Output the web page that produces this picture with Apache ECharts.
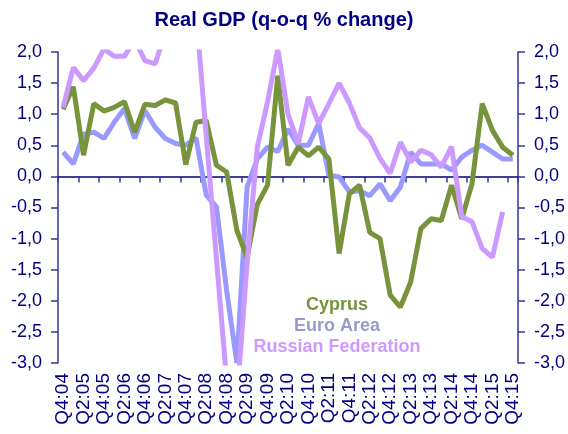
<!DOCTYPE html>
<html>
<head>
<meta charset="utf-8">
<script src="https://cdn.jsdelivr.net/npm/echarts@6/dist/echarts.min.js"></script>
<style>html,body{margin:0;padding:0;background:#fff}#c{width:568px;height:434px}</style>
</head>
<body>
<div id="c"></div>
<script>
// Quarters Q4:04 .. Q4:15
const categories = [];
(function(){
  categories.push('Q4:04');
  for (let y = 5; y <= 15; y++) {
    for (let q = 1; q <= 4; q++) categories.push('Q' + q + ':' + (y < 10 ? '0' + y : '' + y));
  }
})();

const cyprus = [1.08,1.44,0.34,1.17,1.05,1.11,1.20,0.71,1.16,1.14,1.23,1.18,0.19,0.87,0.90,0.18,0.07,-0.87,-1.30,-0.45,-0.14,1.62,0.18,0.47,0.33,0.47,0.28,-1.24,-0.28,-0.14,-0.90,-1.00,-1.91,-2.10,-1.70,-0.84,-0.68,-0.71,-0.14,-0.68,-0.12,1.17,0.74,0.47,0.34];
const euroArea = [0.39,0.20,0.68,0.71,0.61,0.87,1.09,0.61,1.06,0.79,0.61,0.53,0.50,0.62,-0.30,-0.49,-1.84,-3.00,-0.17,0.28,0.47,0.40,0.76,0.50,0.50,0.85,0.02,-0.01,-0.25,-0.23,-0.31,-0.12,-0.39,-0.17,0.39,0.20,0.20,0.20,0.10,0.31,0.42,0.50,0.39,0.28,0.28];
const russia = [1.11,1.75,1.54,1.74,2.05,1.93,1.93,2.20,1.86,1.81,2.30,2.40,2.50,2.65,0.66,-1.32,-3.28,-3.60,-1.40,0.47,1.20,2.05,1.00,0.53,1.28,0.85,1.17,1.50,1.18,0.78,0.62,0.29,0.05,0.55,0.23,0.42,0.35,0.15,0.48,-0.65,-0.73,-1.16,-1.30,-0.57,null];

const seriesNames = ['Cyprus', 'Euro Area', 'Russian Federation'];
const titleText = 'Real GDP (q-o-q % change)';

const FONT = '"Liberation Sans", Arial, sans-serif';
const NAVY = '#000080';
const AXIS = '#333399';
const cGreen = '#77933C', cBlue = '#9999FF', cPurple = '#CC99FF';

function yAxisCfg(pos) {
  return {
    type: 'value', position: pos, min: -3, max: 2, interval: 0.5,
    splitLine: {show: false},
    axisLine: {show: true, onZero: false, lineStyle: {color: AXIS, width: 1.5}},
    axisTick: {show: true, inside: false, length: 7, lineStyle: {color: AXIS, width: 1.5}},
    axisLabel: {
      color: NAVY, fontFamily: FONT, fontSize: 18, margin: 16,
      formatter: v => v.toFixed(1).replace('.', ',')
    }
  };
}

const chart = echarts.init(document.getElementById('c'), null, {renderer: 'canvas'});
chart.setOption({
  animation: false,
  backgroundColor: '#fff',
  title: {
    text: titleText, left: 'center', top: 5,
    textStyle: {color: NAVY, fontFamily: FONT, fontSize: 20, fontWeight: 'bold'}
  },
  grid: {left: 58, right: 48, top: 52, bottom: 71, containLabel: false},
  xAxis: [
    {
      type: 'category', data: categories, position: 'bottom', boundaryGap: true,
      axisLine: {show: false, onZero: false},
      axisTick: {show: false},
      axisLabel: {interval: 1, rotate: 90, color: NAVY, fontFamily: FONT, fontSize: 19, margin: 10}
    },
    {
      type: 'category', data: categories, position: 'bottom', boundaryGap: true,
      axisLine: {show: true, onZero: true, lineStyle: {color: NAVY, width: 1.5}},
      axisTick: {show: true, interval: 1, length: 6, lineStyle: {color: AXIS, width: 1.5}},
      axisLabel: {show: false}
    }
  ],
  yAxis: [yAxisCfg('left'), yAxisCfg('right')],
  series: [
    {name: seriesNames[1], type: 'line', data: euroArea, xAxisIndex: 0, yAxisIndex: 0, showSymbol: false, symbol: 'none',
     lineStyle: {color: cBlue, width: 5}, itemStyle: {color: cBlue}, z: 2},
    {name: seriesNames[0], type: 'line', data: cyprus, xAxisIndex: 0, yAxisIndex: 0, showSymbol: false, symbol: 'none',
     lineStyle: {color: cGreen, width: 5}, itemStyle: {color: cGreen}, z: 3},
    {name: seriesNames[2], type: 'line', data: russia, xAxisIndex: 0, yAxisIndex: 0, showSymbol: false, symbol: 'none',
     lineStyle: {color: cPurple, width: 5}, itemStyle: {color: cPurple}, z: 4}
  ],
  graphic: [
    {type: 'text', x: 337, y: 305, z: 10, style: {text: seriesNames[0], fill: cGreen, font: 'bold 18px ' + FONT, textAlign: 'center', textVerticalAlign: 'middle'}},
    {type: 'text', x: 337, y: 326, z: 10, style: {text: seriesNames[1], fill: '#9999CC', font: 'bold 18px ' + FONT, textAlign: 'center', textVerticalAlign: 'middle'}},
    {type: 'text', x: 337, y: 347, z: 10, style: {text: seriesNames[2], fill: cPurple, font: 'bold 18px ' + FONT, textAlign: 'center', textVerticalAlign: 'middle'}}
  ]
});
</script>
</body>
</html>
